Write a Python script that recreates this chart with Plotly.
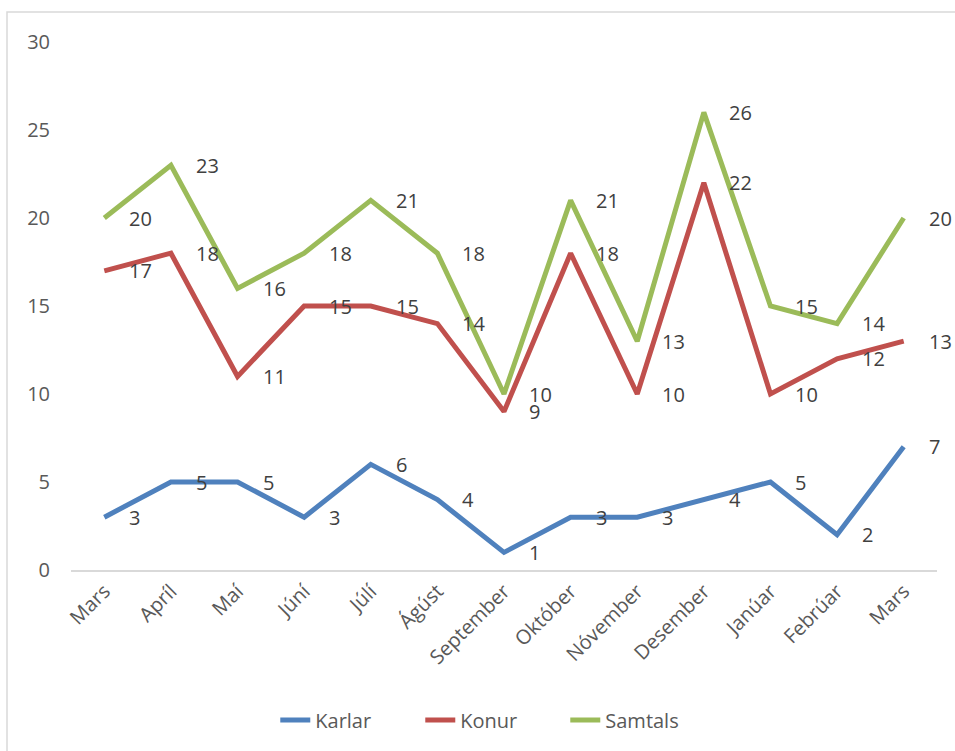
import plotly.graph_objects as go

months = ["Mars", "Apríl", "Maí", "Júní", "Júlí", "Ágúst", "September",
          "Október", "Nóvember", "Desember", "Janúar", "Febrúar", "Mars"]
karlar = [3, 5, 5, 3, 6, 4, 1, 3, 3, 4, 5, 2, 7]
konur = [17, 18, 11, 15, 15, 14, 9, 18, 10, 22, 10, 12, 13]
samtals = [20, 23, 16, 18, 21, 18, 10, 21, 13, 26, 15, 14, 20]
y_ticks = [0, 5, 10, 15, 20, 25, 30]

xs = list(range(len(months)))
series = [("Karlar", karlar, "#4F81BD"),
          ("Konur", konur, "#C0504D"),
          ("Samtals", samtals, "#9BBB59")]

FONT = "Open Sans, Noto Sans, sans-serif"
fig = go.Figure()
annotations = []
for name, vals, col in series:
    fig.add_trace(go.Scatter(x=xs, y=vals, mode="lines", name=name,
                             line=dict(color=col, width=5)))
    for i, v in enumerate(vals):
        annotations.append(dict(x=i, y=v, xref="x", yref="y", text=str(v),
                                showarrow=False, xanchor="left", yanchor="middle",
                                xshift=23,
                                font=dict(family=FONT, size=20, color="#404040")))

fig.update_layout(
    width=955, height=751,
    margin=dict(l=71, r=18, t=42, b=181),
    paper_bgcolor="white", plot_bgcolor="white",
    font=dict(family=FONT, size=20, color="#595959"),
    annotations=annotations,
    showlegend=True,
    legend=dict(orientation="h", xref="container", yref="container",
                x=0.516, xanchor="center", y=1 - 720 / 751, yanchor="middle",
                font=dict(family=FONT, size=20, color="#595959"),
                entrywidth=100, entrywidthmode="pixels",
                traceorder="normal"),
    xaxis=dict(tickmode="array", tickvals=xs, ticktext=months, tickangle=-45,
               range=[-0.5, len(months) - 0.5], showgrid=False, zeroline=False,
               showline=True, linecolor="#D9D9D9", linewidth=1.5, ticks="",
               tickfont=dict(family=FONT, size=20, color="#595959")),
    yaxis=dict(range=[0, 30], tickmode="array", tickvals=y_ticks,
               showgrid=False, zeroline=False, showline=False, ticks="",
               ticklabelstandoff=20,
               tickfont=dict(family=FONT, size=20, color="#595959")),
    shapes=[dict(type="rect", xref="paper", yref="paper",
                 x0=(7 - 71) / 866, x1=(990 - 71) / 866,
                 y0=(570 - 790) / 528, y1=(570 - 12) / 528,
                 line=dict(color="#D9D9D9", width=1.5), layer="below")],
)

fig.write_html("out.html", config={"displayModeBar": False},
               post_script="document.body.style.margin='0';document.body.style.overflow='hidden';")
